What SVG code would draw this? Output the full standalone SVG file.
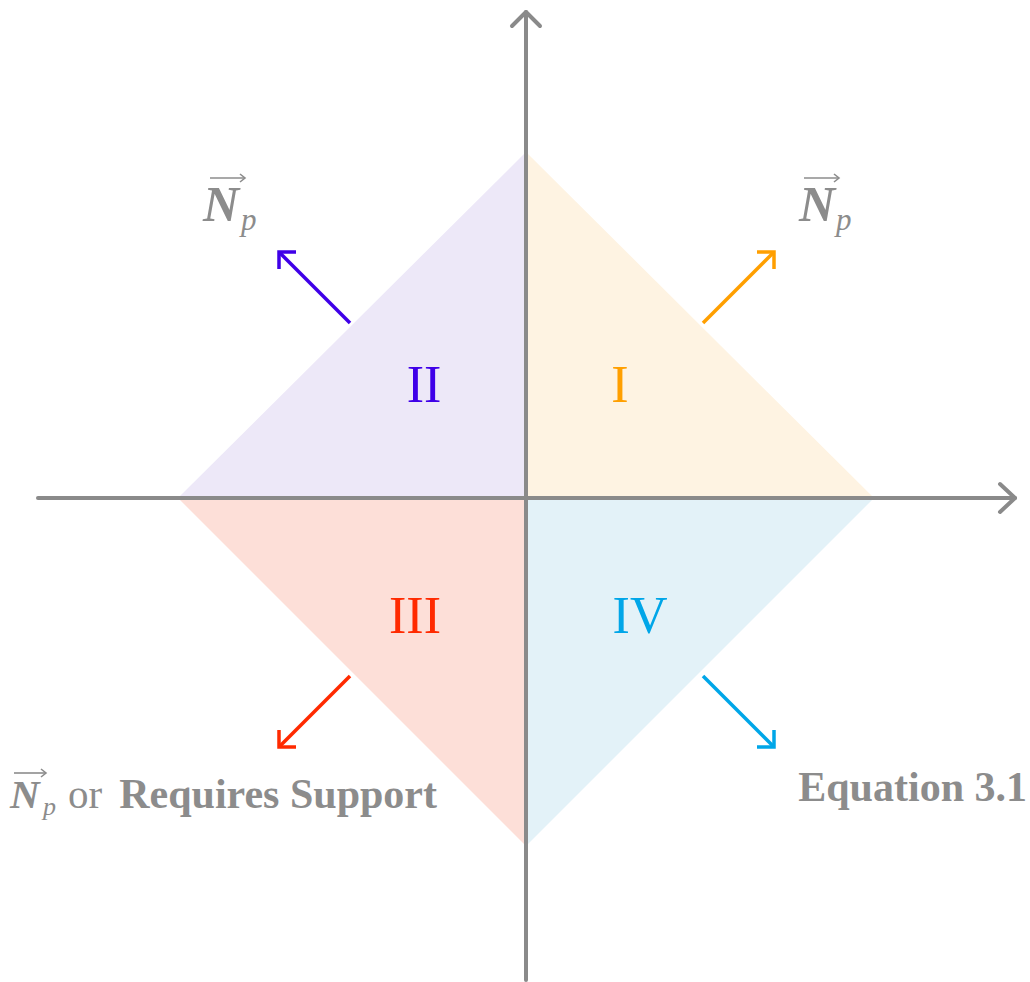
<svg xmlns="http://www.w3.org/2000/svg" width="1030" height="982" viewBox="0 0 1030 982">
<style>
.axis{stroke:#8a8a8a;stroke-width:4;fill:none;stroke-linecap:round;stroke-linejoin:round}
.vec{stroke-width:3.5;fill:none;stroke-linecap:butt;stroke-linejoin:miter}
.t{font-family:"Liberation Serif","Times New Roman",serif}
.lab{fill:#8c8c8c}
.num{font-size:52px}
.ov{stroke:#8c8c8c;stroke-width:1.6;fill:none}
</style>
<rect width="1030" height="982" fill="#ffffff"/>
<g id="quadrants">
<polygon id="q1" points="526,152 874,498 526,498" fill="#fef3e2"/>
<polygon id="q2" points="526,152 178,498 526,498" fill="#ede8f8"/>
<polygon id="q3" points="178,498 526,846 526,498" fill="#fddfd8"/>
<polygon id="q4" points="874,498 526,846 526,498" fill="#e3f2f8"/>
</g>
<g id="axes">
<line class="axis" x1="38" y1="498" x2="1015" y2="498"/>
<polyline class="axis" points="1000,484 1015,498 1000,512"/>
<line class="axis" x1="526" y1="980" x2="526" y2="12"/>
<polyline class="axis" points="512,26 526,12 540,26"/>
</g>
<g id="connectors">
<g stroke="#3f00e8" class="vec"><line x1="350" y1="323" x2="280" y2="253"/><polyline points="296,252 279,252 279,269"/></g>
<g stroke="#ff9f00" class="vec"><line x1="703" y1="323" x2="773" y2="253"/><polyline points="757,252 774,252 774,269"/></g>
<g stroke="#ff2a00" class="vec"><line x1="350" y1="676" x2="280" y2="746"/><polyline points="279,730 279,747 296,747"/></g>
<g stroke="#00a6e8" class="vec"><line x1="703" y1="676" x2="773" y2="746"/><polyline points="774,730 774,747 757,747"/></g>
</g>
<g id="numerals">
<text class="t num" x="424" y="402" text-anchor="middle" fill="#3f00e8">II</text>
<text class="t num" x="620" y="402" text-anchor="middle" fill="#ff9f00">I</text>
<text class="t num" x="415" y="633" text-anchor="middle" fill="#ff2a00">III</text>
<text class="t num" x="640" y="633" text-anchor="middle" fill="#00a6e8">IV</text>
</g>
<g id="label-np-left">
<text class="t lab" x="203" y="221" font-size="50" font-weight="bold" font-style="italic">N</text>
<text class="t lab" x="241" y="230" font-size="31" font-style="italic">p</text>
<g class="ov"><line x1="210" y1="178" x2="245" y2="178"/><polyline points="240,174 245,178 240,182"/></g>
</g>
<g id="label-np-right">
<text class="t lab" x="799" y="221" font-size="50" font-weight="bold" font-style="italic">N</text>
<text class="t lab" x="836" y="230" font-size="31" font-style="italic">p</text>
<g class="ov"><line x1="804" y1="178" x2="839" y2="178"/><polyline points="834,174 839,178 834,182"/></g>
</g>
<g id="label-support">
<text class="t lab" x="10" y="808" font-size="41" font-weight="bold" font-style="italic">N</text>
<text class="t lab" x="43" y="815" font-size="26" font-style="italic">p</text>
<g class="ov"><line x1="14" y1="773" x2="46" y2="773"/><polyline points="41,769 46,773 41,777"/></g>
<text class="t lab" x="68" y="808" font-size="41">or</text>
<text class="t lab" x="437" y="808" font-size="42" font-weight="bold" text-anchor="end">Requires Support</text>
</g>
<g id="label-equation">
<text class="t lab" x="1027" y="801" font-size="42" font-weight="bold" text-anchor="end">Equation 3.1</text>
</g>
</svg>
